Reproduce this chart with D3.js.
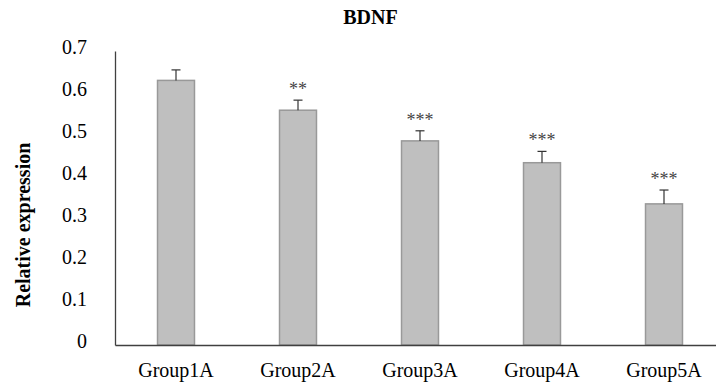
<!DOCTYPE html>
<html>
<head>
<meta charset="utf-8">
<script src="https://cdn.jsdelivr.net/npm/d3@7"></script>
<style>
  body { margin: 0; background: #fff; }
  svg { display: block; font-family: "Liberation Serif", "Times New Roman", serif; }
</style>
</head>
<body>
<div class="chart"></div>
<script>
const groups = ['Group1A', 'Group2A', 'Group3A', 'Group4A', 'Group5A'];
const expression = [0.630, 0.559, 0.486, 0.434, 0.336];
const errors = [0.025, 0.024, 0.024, 0.027, 0.033];
const stars = ['', '**', '***', '***', '***'];
const yTicks = [0, 0.1, 0.2, 0.3, 0.4, 0.5, 0.6, 0.7];

const svgwidth = 716;
const svgheight = 390;
const plotLeft = 115, plotRight = 725, plotTop = 51, plotBottom = 345;

const svg = d3.select('.chart').append('svg')
    .attr('width', svgwidth)
    .attr('height', svgheight);

const x = d3.scaleBand()
    .domain(groups)
    .range([plotLeft, plotRight])
    .paddingInner(0.697)
    .paddingOuter(0.3485);

const y = d3.scaleLinear()
    .domain([0, 0.7])
    .range([plotBottom, plotTop]);

const data = groups.map((g, i) => ({group: g, value: expression[i], err: errors[i], star: stars[i]}));

// title
svg.append('text')
    .attr('x', 370.5)
    .attr('y', 23.5)
    .attr('text-anchor', 'middle')
    .attr('font-size', 20)
    .attr('font-weight', 'bold')
    .text('BDNF');

// y axis label
svg.append('text')
    .attr('transform', 'translate(30,225) rotate(-90)')
    .attr('text-anchor', 'middle')
    .attr('font-size', 20)
    .attr('font-weight', 'bold')
    .text('Relative expression');

// y axis
const yAxis = svg.append('g')
    .attr('transform', `translate(${plotLeft},0)`)
    .call(d3.axisLeft(y).tickValues(yTicks).tickSize(0).tickPadding(28).tickFormat(d => d === 0 ? '0' : d3.format('.1f')(d)));
yAxis.select('.domain').attr('stroke', '#404040').attr('stroke-width', 1.3);
yAxis.selectAll('text')
    .attr('font-family', '"Liberation Serif", serif')
    .attr('font-size', 20)
    .attr('fill', '#000')
    .attr('dy', '0.12em');

// bars
svg.selectAll('rect.bar')
    .data(data)
    .enter()
    .append('rect')
    .attr('class', 'bar')
    .attr('x', d => x(d.group))
    .attr('y', d => y(d.value))
    .attr('width', x.bandwidth())
    .attr('height', d => y(0) - y(d.value))
    .attr('fill', '#bfbfbf')
    .attr('stroke', '#999999')
    .attr('stroke-width', 1.5);

// error bars
const eb = svg.selectAll('g.err')
    .data(data)
    .enter()
    .append('g')
    .attr('class', 'err')
    .attr('stroke', '#333')
    .attr('stroke-width', 1.2);
eb.append('line')
    .attr('x1', d => x(d.group) + x.bandwidth() / 2)
    .attr('x2', d => x(d.group) + x.bandwidth() / 2)
    .attr('y1', d => y(d.value))
    .attr('y2', d => y(d.value + d.err));
eb.append('line')
    .attr('x1', d => x(d.group) + x.bandwidth() / 2 - 4.5)
    .attr('x2', d => x(d.group) + x.bandwidth() / 2 + 4.5)
    .attr('y1', d => y(d.value + d.err))
    .attr('y2', d => y(d.value + d.err));

// significance stars
svg.selectAll('text.star')
    .data(data)
    .enter()
    .append('text')
    .attr('class', 'star')
    .attr('x', d => x(d.group) + x.bandwidth() / 2)
    .attr('y', d => y(d.value + d.err) - 5)
    .attr('text-anchor', 'middle')
    .attr('font-size', 18)
    .attr('fill', '#444')
    .text(d => d.star);

// x axis
const xAxis = svg.append('g')
    .attr('transform', `translate(0,${plotBottom})`)
    .call(d3.axisBottom(x).tickSize(0).tickPadding(18));
xAxis.select('.domain').attr('stroke', '#404040').attr('stroke-width', 1.3);
xAxis.selectAll('text')
    .attr('font-family', '"Liberation Serif", serif')
    .attr('font-size', 20)
    .attr('fill', '#000');
</script>
</body>
</html>
